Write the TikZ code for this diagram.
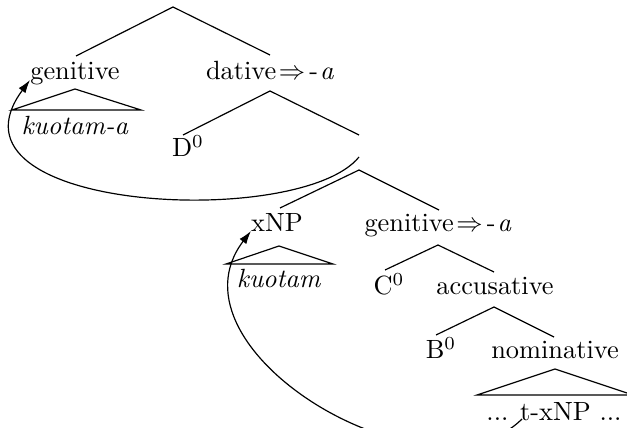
\documentclass[tikz,border=0pt]{standalone}
\usetikzlibrary{arrows.meta}
\begin{document}
\begin{tikzpicture}[x=0.3794pt,y=-0.3794pt,
  lbl/.style={inner sep=0pt, anchor=base},
  br/.style={line width=0.45pt},
  mv/.style={-{Latex[length=5pt,width=3.2pt]}, line width=0.45pt}]
\useasboundingbox (0,0) rectangle (627,428);
\clip (0,0) rectangle (627,428);
% labels
\node[lbl] (gen1) at (75,80) {genitive};
\node[lbl] (dat) at (270,80) {dative\kern1pt$\Rightarrow$\kern1.5pt-\kern0.8pt\textit{a}};
\node[lbl] (kuoa) at (75,135) {\textit{kuotam-a}};
\node[lbl] (d0) at (188,157) {D$^0$};
\node[lbl] (xnp) at (277,232) {xNP};
\node[lbl] (gen2) at (438,232) {genitive\kern1pt$\Rightarrow$\kern1.5pt-\kern0.8pt\textit{a}};
\node[lbl] (kuo) at (279,288) {\textit{kuotam}};
\node[lbl] (c0) at (389,295) {C$^0$};
\node[lbl] (acc) at (495,295) {accusative};
\node[lbl] (b0) at (441,359) {B$^0$};
\node[lbl] (nom) at (555,359) {nominative};
\node[lbl] (txnp) at (554,421) {... t-xNP ...};
% branch points
\coordinate (root) at (173,7);
\coordinate (genTop) at (76,56);
\coordinate (datTop) at (270,55);
\coordinate (datBot) at (270,91);
\coordinate (d0Top) at (183,135);
\coordinate (empTop) at (359,135);
\coordinate (empBot) at (359,170);
\coordinate (xnpTop) at (280,208);
\coordinate (gen2Top) at (439,210);
\coordinate (gen2Bot) at (438,245);
\coordinate (c0Top) at (385,270);
\coordinate (accTop) at (494,272);
\coordinate (accBot) at (494,307);
\coordinate (b0Top) at (436,335);
\coordinate (nomTop) at (554,337);
\coordinate (nomBot) at (555,369);
% triangle corners
\coordinate (t1a) at (75,89);
\coordinate (t1l) at (12,110);
\coordinate (t1r) at (141,110);
\coordinate (t2a) at (279,246);
\coordinate (t2l) at (226,264);
\coordinate (t2r) at (333,264);
\coordinate (t3l) at (477,395);
\coordinate (t3r) at (633,395);
% branches
\draw[br] (genTop) -- (root) -- (datTop);
\draw[br] (d0Top) -- (datBot) -- (empTop);
\draw[br] (xnpTop) -- (empBot) -- (gen2Top);
\draw[br] (c0Top) -- (gen2Bot) -- (accTop);
\draw[br] (b0Top) -- (accBot) -- (nomTop);
\draw[br] (t1a) -- (t1l) -- (t1r) -- cycle;
\draw[br] (t2a) -- (t2l) -- (t2r) -- cycle;
\draw[br] (nomBot) -- (t3l) -- (t3r) -- cycle;
% movement arrows
\coordinate (empS) at (359,157);
\coordinate (genArr) at (30,80);
\coordinate (tS) at (522,419);
\coordinate (xnpArr) at (251,231);
\draw[mv] (empS) .. controls (300,230) and (-68,212) .. (genArr);
\draw[mv] (tS) .. controls (430,510) and (160,350) .. (xnpArr);
\end{tikzpicture}
\end{document}
